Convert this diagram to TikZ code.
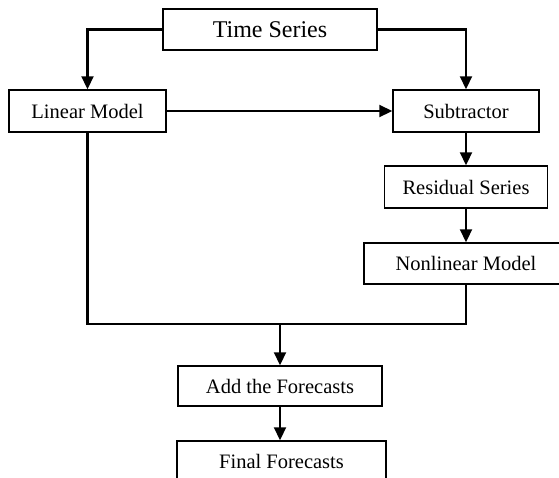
\documentclass[tikz,border=0pt]{standalone}
\usepackage{fontspec}
\setmainfont{Liberation Serif}
\usetikzlibrary{arrows.meta}
\begin{document}
\begin{tikzpicture}[x=1pt,y=-1pt,
  box/.style={draw=black,line width=1.5pt,fill=white,inner sep=0pt,anchor=center,
    font=\fontsize{20.5}{24}\selectfont},
  titlebox/.style={box,font=\fontsize{24}{28}\selectfont},
  conn/.style={draw=black,line width=2.2pt},
  arr/.style={conn,-{Triangle[width=12pt,length=13pt]}}]
\useasboundingbox (0,0) rectangle (559,477);
\clip (0,0) rectangle (559,477);
\node[titlebox,minimum width=214pt,minimum height=41pt] (ts) at (270,29.5) {Time Series};
\node[box,minimum width=157pt,minimum height=42pt] (lm) at (87.5,111) {Linear Model};
\node[box,minimum width=146pt,minimum height=42pt] (sub) at (466,111) {Subtractor};
\node[box,minimum width=163pt,minimum height=42pt] (res) at (466,187) {Residual Series};
\node[box,minimum width=204pt,minimum height=41pt] (nl) at (466,263.5) {Nonlinear Model};
\node[box,minimum width=204pt,minimum height=40pt] (add) at (280,386) {Add the Forecasts};
\node[box,minimum width=209pt,minimum height=41pt] (fin) at (281.5,461.5) {Final Forecasts};
\coordinate (j) at (280,324);
\draw[arr] (ts.west) -| (lm.north);
\draw[arr] (ts.east) -| (sub.north);
\draw[arr] (lm.east) -- (lm.east -| sub.west);
\draw[arr] (sub.south) -- (res.north);
\draw[arr] (res.south) -- (nl.north);
\draw[conn] (lm.south) |- (j) -| (nl.south);
\draw[arr] (j) -- (add.north);
\draw[arr] (add.south) -- (add.south |- fin.north);
\end{tikzpicture}
\end{document}
